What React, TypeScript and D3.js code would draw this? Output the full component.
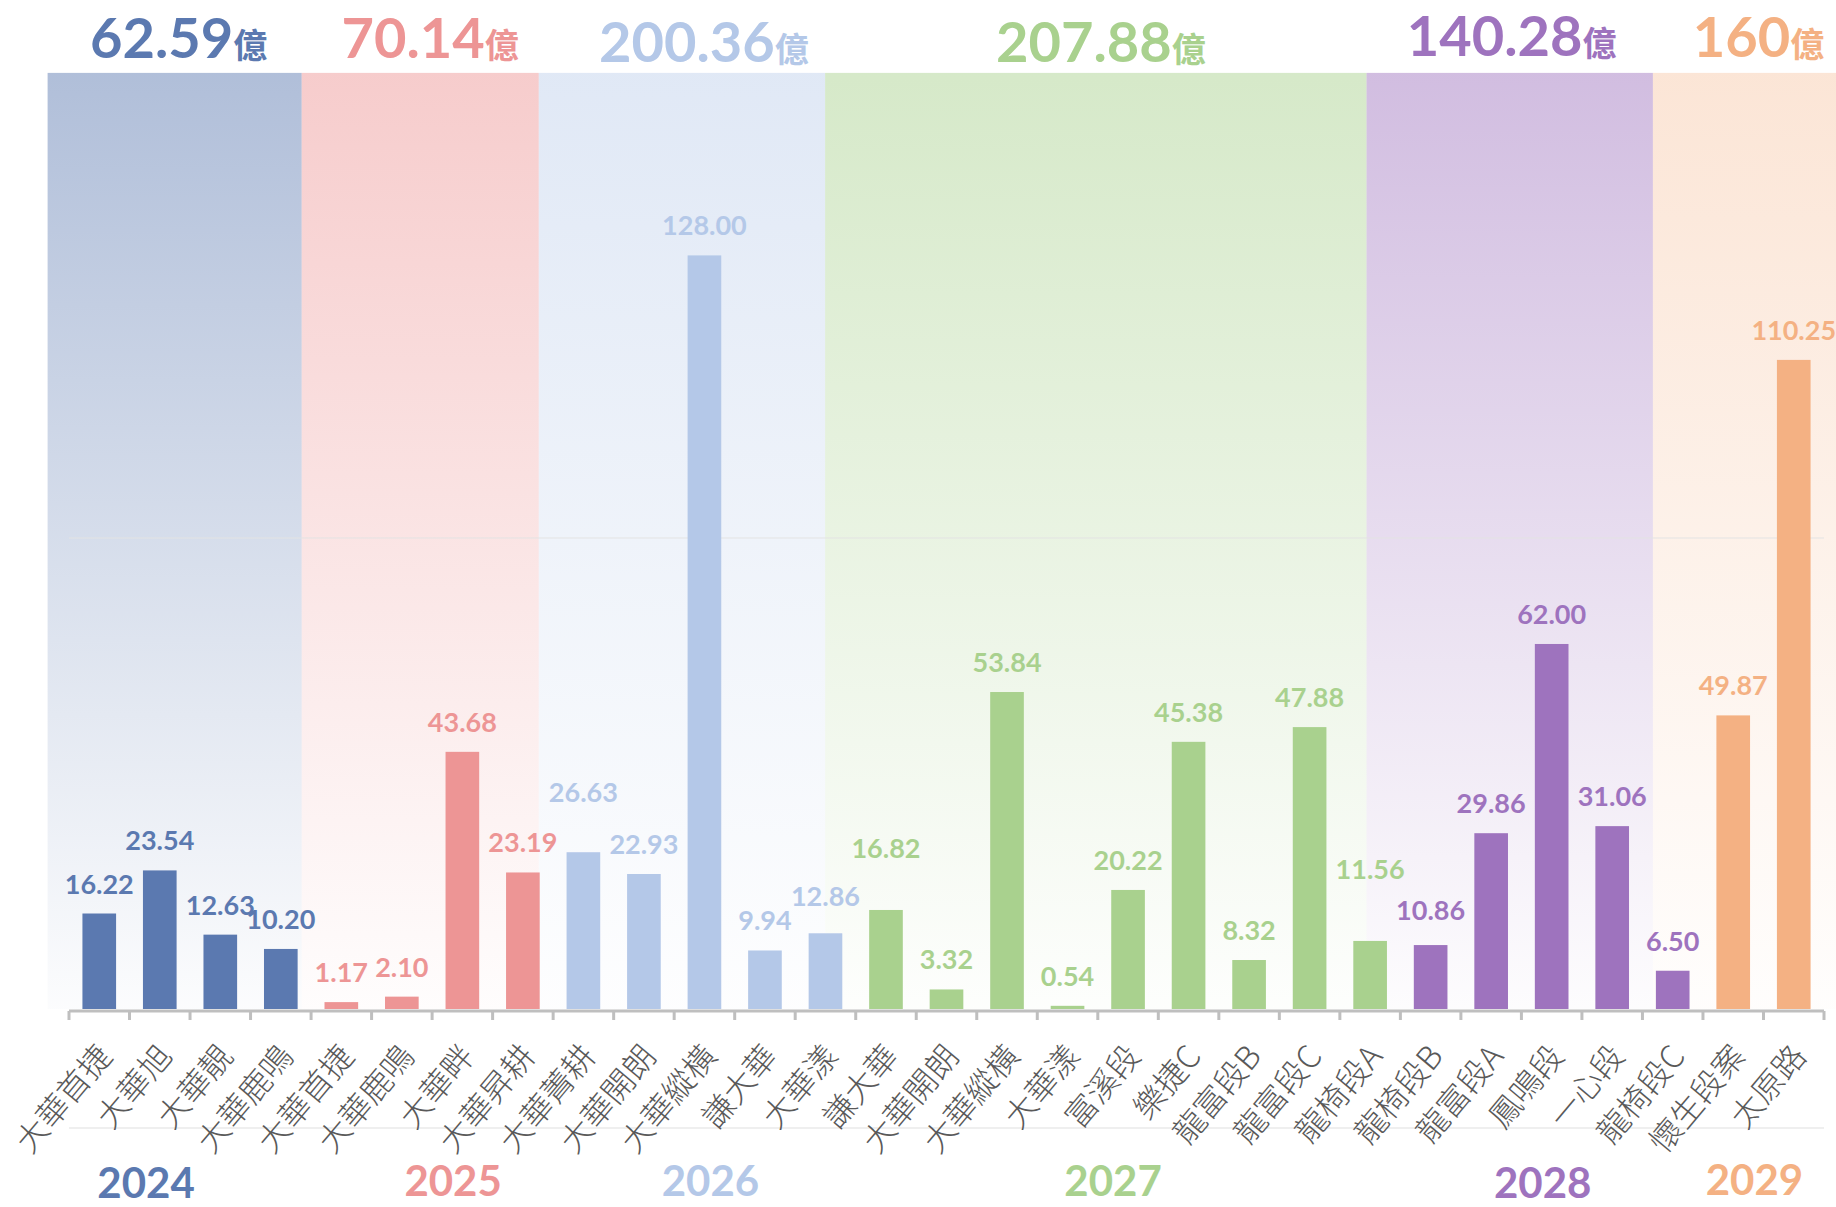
import React from 'react';
import * as d3 from 'd3';

// ---- data ----
const categories = [
  '大華首捷', '大華旭', '大華靚', '大華鹿鳴',
  '大華首捷', '大華鹿鳴', '大華畔', '大華昇耕',
  '大華菁耕', '大華開朗', '大華縱橫', '謙大華', '大華漾',
  '謙大華', '大華開朗', '大華縱橫', '大華漾', '富溪段', '樂捷C', '龍富段B', '龍富段C', '龍椅段A',
  '龍椅段B', '龍富段A', '鳳鳴段', '一心段', '龍椅段C',
  '懷生段案', '太原路',
];
const values = [
  16.22, 23.54, 12.63, 10.2,
  1.17, 2.1, 43.68, 23.19,
  26.63, 22.93, 128.0, 9.94, 12.86,
  16.82, 3.32, 53.84, 0.54, 20.22, 45.38, 8.32, 47.88, 11.56,
  10.86, 29.86, 62.0, 31.06, 6.5,
  49.87, 110.25,
];
const years = ['2024', '2025', '2026', '2027', '2028', '2029'];
const groupCounts = [4, 4, 5, 9, 5, 2];
const groupTotals = ['62.59', '70.14', '200.36', '207.88', '140.28', '160'];
const gridValues = [80];
const yMax = 160;
const bandValue = 159;

// ---- style ----
const W = 1836;
const H = 1207;
const colors = ['#5b79b0', '#ed9595', '#b4c8e8', '#a9d18e', '#9e73be', '#f4b183'];
const bandOpacity = [0.48, 0.48, 0.41, 0.48, 0.47, 0.33];
const bandEdgeShift = [-10, 7, 7, -3, 5, -5];
const titleShift = [
  { dx: 4, y: 58 }, { dx: 10, y: 58 }, { dx: 22, y: 62 },
  { dx: 5, y: 62 }, { dx: 2, y: 56 }, { dx: 14, y: 57 },
];
const yearShift = [
  { dx: -44, y: 1198 }, { dx: 21, y: 1196 }, { dx: 6, y: 1196 },
  { dx: -15, y: 1196 }, { dx: -9, y: 1198 }, { dx: -9, y: 1195 },
];
const labelLift: Record<number, number> = { 8: 30, 12: 7, 13: 32, 21: 42, 22: 5 };
const numFont = "Lato, 'Noto Sans CJK TC', sans-serif";
const cjkFont = "'Noto Sans CJK TC', 'Noto Sans CJK SC', sans-serif";

export default function App() {
  const groupOf: number[] = [];
  const groupStart: number[] = [];
  let acc = 0;
  groupCounts.forEach((c, g) => {
    groupStart.push(acc);
    for (let i = 0; i < c; i++) groupOf.push(g);
    acc += c;
  });

  const idx = values.map((_, i) => i);
  const x = d3.scaleBand<number>().domain(idx).range([69, 1824]).paddingInner(0.444).paddingOuter(0.222);
  const y = d3.scaleLinear().domain([0, yMax]).range([1009, 67]);
  const step = x.step();
  const bgX = d3.scaleLinear().domain([0, values.length]).range([57.6, 57.6 + 59.27 * values.length]);

  const base = y(0);
  const edge = (g: number) => (g >= groupCounts.length ? W : bgX(groupStart[g]) + bandEdgeShift[g]);

  return (
    <svg width={W} height={H} style={{ position: 'absolute', left: 0, top: 0, background: '#fff' }}>
      <defs>
        {colors.map((c, g) => (
          <linearGradient key={g} id={`bg${g}`} x1="0" y1="0" x2="0" y2="1">
            <stop offset="0" stopColor={c} stopOpacity={bandOpacity[g]} />
            <stop offset="1" stopColor={c} stopOpacity={0.02} />
          </linearGradient>
        ))}
      </defs>

      {/* background bands */}
      {groupCounts.map((c, g) => {
        const x0 = edge(g);
        const x1 = edge(g + 1);
        return (
          <rect key={g} x={x0} y={y(bandValue)} width={x1 - x0}
            height={base - y(bandValue)} fill={`url(#bg${g})`} />
        );
      })}

      {/* gridlines */}
      {gridValues.map((v) => (
        <line key={v} x1={69} x2={1824} y1={y(v)} y2={y(v)} stroke="#e3e3e3" strokeWidth={1} />
      ))}
      <line x1={69} x2={1824} y1={1128} y2={1128} stroke="#efefef" strokeWidth={2} />

      {/* bars */}
      {values.map((v, i) => (
        <rect key={i} x={x(i)} y={y(v)} width={x.bandwidth()} height={base - y(v)} fill={colors[groupOf[i]]} />
      ))}

      {/* axis */}
      <line x1={69} x2={1824} y1={base + 2} y2={base + 2} stroke="#bfbfbf" strokeWidth={3} />
      {d3.range(values.length + 1).map((k) => {
        const tx = 69 + k * step;
        return <line key={k} x1={tx} x2={tx} y1={base + 2} y2={base + 11} stroke="#bfbfbf" strokeWidth={3} />;
      })}

      {/* data labels */}
      {values.map((v, i) => (
        <text key={i} x={(x(i) as number) + x.bandwidth() / 2} y={y(v) - 20 - (labelLift[i] || 0)}
          textAnchor="middle" fontFamily={numFont} fontWeight={700} fontSize={27} fill={colors[groupOf[i]]}>
          {v.toFixed(2)}
        </text>
      ))}

      {/* category labels */}
      {categories.map((c, i) => {
        const cx = (x(i) as number) + x.bandwidth() / 2 + 14;
        const cy = base + 48;
        return (
          <text key={i} x={cx} y={cy} transform={`rotate(-50 ${cx} ${cy})`} textAnchor="end"
            fontFamily={cjkFont} fontWeight={300} fontSize={32} fill="#595959">
            {c}
          </text>
        );
      })}

      {/* group totals */}
      {groupCounts.map((c, g) => {
        const cx = (edge(g) + edge(g + 1)) / 2 + titleShift[g].dx;
        return (
          <text key={g} x={cx} y={titleShift[g].y} textAnchor="middle" fill={colors[g]} fontWeight={700}>
            <tspan fontFamily={numFont} fontSize={56}>{groupTotals[g]}</tspan>
            <tspan fontFamily={cjkFont} fontSize={34}>億</tspan>
          </text>
        );
      })}

      {/* year labels */}
      {groupCounts.map((c, g) => {
        const first = x(groupStart[g]) as number;
        const last = (x(groupStart[g] + c - 1) as number) + x.bandwidth();
        const cx = (first + last) / 2 + yearShift[g].dx;
        return (
          <text key={g} x={cx} y={yearShift[g].y} textAnchor="middle" fontFamily={numFont}
            fontWeight={700} fontSize={42} fill={colors[g]}>
            {years[g]}
          </text>
        );
      })}
    </svg>
  );
}
